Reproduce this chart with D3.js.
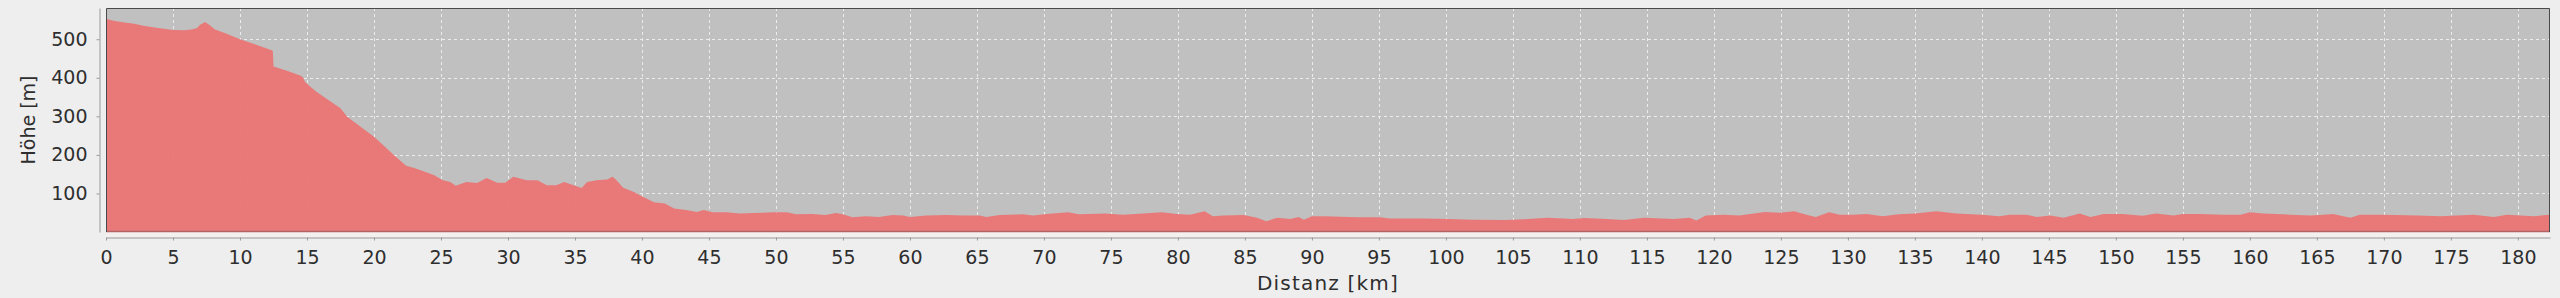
<!DOCTYPE html>
<html>
  <head>
    <meta charset="UTF-8" />
    <title>Höhenprofil</title>
    <script src="https://d3js.org/d3.v7.min.js"></script>
    <style>
      body {
        margin: 0;
        background: #eeeeee;
      }
      svg {
        display: block;
        font-family: "DejaVu Sans", sans-serif;
      }
    </style>
  </head>
  <body>
    <svg width="2560" height="298"></svg>
    <script>
      // distance along the route (km) and elevation (m)
      var distKm = [
        0, 0.55, 1.5, 2.0, 2.8, 3.5, 4.3, 5.0, 5.8, 6.4, 6.8, 7.0, 7.4, 7.8, 8.1,
        9.0, 10.0, 11.0, 12.0, 12.45, 12.5, 13.5, 14.5, 14.7, 14.85, 15.1, 15.7,
        16.95, 17.5, 18.0, 19.0, 20.0, 20.7, 21.5, 22.4, 23.0, 23.8, 24.5, 25.1,
        25.7, 26.1, 26.9, 27.7, 28.4, 29.2, 29.8, 30.4, 31.4, 32.2, 32.9, 33.6,
        34.2, 34.9, 35.5, 35.9, 36.6, 37.4, 37.8, 38.1, 38.6, 39.4, 40.1, 40.9,
        41.7, 42.4, 43.3, 44.1, 44.6, 45.3, 46.3, 47.3, 48.3, 49.8, 50.8, 51.5,
        52.7, 53.7, 54.5, 55.0, 55.7, 56.7, 57.7, 58.7, 59.5, 60.0, 61.2, 62.7,
        64.0, 65.2, 65.7, 66.7, 68.4, 69.2, 70.0, 71.8, 72.6, 74.6, 75.9, 77.4,
        78.8, 79.9, 80.9, 82.0, 82.6, 83.4, 84.9, 85.9, 86.6, 87.4, 88.4, 89.0,
        89.4, 90.0, 90.9, 93.4, 95.1, 95.8, 98.3, 100.3, 102.0, 104.5, 105.8,
        107.6, 109.5, 110.3, 112.0, 113.3, 114.8, 117.0, 118.2, 118.7, 119.4,
        120.7, 121.9, 123.8, 124.9, 126.0, 126.9, 127.6, 128.6, 129.4, 130.4,
        131.4, 132.6, 133.8, 135.0, 136.6, 138.1, 140.0, 141.3, 142.1, 143.3,
        144.1, 145.1, 146.1, 147.3, 148.1, 149.1, 150.5, 152.0, 153.0, 154.3,
        155.0, 156.3, 158.0, 159.3, 160.0, 161.0, 163.0, 164.5, 165.5, 166.2,
        167.5, 168.2, 170.0, 172.5, 174.2, 176.7, 178.2, 179.2, 181.2, 182.4,
      ];
      var elevM = [
        553, 548, 543, 541, 535, 531, 527, 524, 523, 525, 529, 537, 545, 535, 526,
        514, 500, 488, 476, 470, 429, 418, 406, 401, 390, 381, 364,
        334, 321, 299, 273, 247, 225, 199, 172, 166, 156, 147, 135,
        130, 120, 130, 127, 140, 128, 128, 143, 134, 134, 121, 121,
        130, 121, 114, 130, 134, 136, 143, 134, 115, 104, 91, 77,
        74, 61, 57, 52, 57, 51, 51, 48, 49, 51, 51, 46,
        47, 44, 49, 46, 38, 41, 39, 44, 43, 39, 43, 44,
        43, 43, 39, 44, 46, 43, 46, 51, 46, 48, 45, 48,
        51, 47, 45, 54, 41, 43, 44, 37, 28, 37, 34, 39,
        32, 41, 41, 38, 38, 35, 35, 34, 32, 31, 33,
        37, 34, 36, 34, 31, 37, 34, 37, 30, 43,
        45, 43, 52, 50, 54, 45, 39, 51, 45, 45,
        47, 41, 46, 48, 54, 48, 45, 41, 45, 45,
        39, 43, 37, 48, 39, 47, 47, 42, 48, 43,
        47, 47, 45, 45, 51, 48, 45, 43, 45, 47,
        37, 45, 45, 43, 41, 45, 39, 45, 41, 45,
      ];
      var xTicks = d3.range(0, 181, 5);
      var yTicks = [100, 200, 300, 400, 500];
      var xMax = 182.4;
      var yMax = 581;

      var data = distKm.map(function (d, i) {
        return { km: d, m: elevM[i] };
      });

      var svg = d3.select("svg"),
        margin = { top: 8, right: 10, bottom: 66, left: 106 },
        width = +svg.attr("width") - margin.left - margin.right,
        height = +svg.attr("height") - margin.top - margin.bottom;

      var x = d3.scaleLinear().domain([0, xMax]).range([0, width]);
      var y = d3.scaleLinear().domain([0, yMax]).range([height, 0]);

      var g = svg
        .append("g")
        .attr("transform", "translate(" + margin.left + "," + margin.top + ")");

      // plot background
      g.append("rect")
        .attr("width", width)
        .attr("height", height)
        .attr("fill", "#c0c0c0");

      // light strip between plot and x axis
      g.append("rect")
        .attr("y", height)
        .attr("width", width)
        .attr("height", 5)
        .attr("fill", "#f4f0f0");

      // grid
      g.append("g")
        .selectAll("line")
        .data(xTicks)
        .enter()
        .append("line")
        .attr("x1", function (d) { return Math.round(x(d)) + 0.5; })
        .attr("x2", function (d) { return Math.round(x(d)) + 0.5; })
        .attr("y1", 0)
        .attr("y2", height)
        .attr("stroke", "#ececec")
        .attr("stroke-dasharray", "3,3");

      g.append("g")
        .selectAll("line")
        .data(yTicks)
        .enter()
        .append("line")
        .attr("x1", 0)
        .attr("x2", width)
        .attr("y1", function (d) { return Math.round(y(d)) + 0.5; })
        .attr("y2", function (d) { return Math.round(y(d)) + 0.5; })
        .attr("stroke", "#ececec")
        .attr("stroke-dasharray", "3,3");

      // elevation area
      var area = d3
        .area()
        .x(function (d) { return x(d.km); })
        .y0(y(0))
        .y1(function (d) { return y(d.m); });

      g.append("path")
        .datum(data)
        .attr("d", area)
        .attr("fill", "#eb7474")
        .attr("fill-opacity", 0.94);

      g.append("line")
        .attr("x1", 0)
        .attr("x2", width)
        .attr("y1", height - 0.5)
        .attr("y2", height - 0.5)
        .attr("stroke", "#b06464")
        .attr("stroke-width", 1.5);

      // plot border
      g.append("path")
        .attr("d", "M0.5," + height + "V0.5H" + (width - 0.5) + "V" + height)
        .attr("fill", "none")
        .attr("stroke", "#4a4a4a");

      // x axis
      var xAxis = g
        .append("g")
        .attr("transform", "translate(0," + (height + 5.5) + ")")
        .call(
          d3.axisBottom(x).tickValues(xTicks).tickSize(3).tickSizeOuter(0).tickPadding(10)
        );
      xAxis.select(".domain").attr("stroke", "#9a9a9a");
      xAxis.selectAll(".tick line").attr("stroke", "#9a9a9a");
      xAxis
        .selectAll("text")
        .attr("fill", "#2e2e2e")
        .attr("font-size", 19)
        .attr("font-family", "DejaVu Sans, sans-serif");

      // y axis
      var yAxis = g
        .append("g")
        .attr("transform", "translate(-6.5,0)")
        .call(d3.axisLeft(y).tickValues(yTicks).tickSize(3).tickSizeOuter(0).tickPadding(9));
      yAxis.select(".domain").attr("stroke", "#9a9a9a");
      yAxis.selectAll(".tick line").attr("stroke", "#9a9a9a");
      yAxis
        .selectAll("text")
        .attr("fill", "#2e2e2e")
        .attr("font-size", 19)
        .attr("font-family", "DejaVu Sans, sans-serif");

      // axis titles
      svg
        .append("text")
        .attr("x", margin.left + width / 2)
        .attr("y", 290)
        .attr("text-anchor", "middle")
        .attr("font-size", 20)
        .attr("letter-spacing", 1.2)
        .attr("fill", "#2e2e2e")
        .text("Distanz [km]");

      svg
        .append("text")
        .attr("transform", "translate(35," + (margin.top + height / 2) + ") rotate(-90)")
        .attr("text-anchor", "middle")
        .attr("font-size", 19)
        .attr("fill", "#2e2e2e")
        .text("Höhe [m]");
    </script>
  </body>
</html>
